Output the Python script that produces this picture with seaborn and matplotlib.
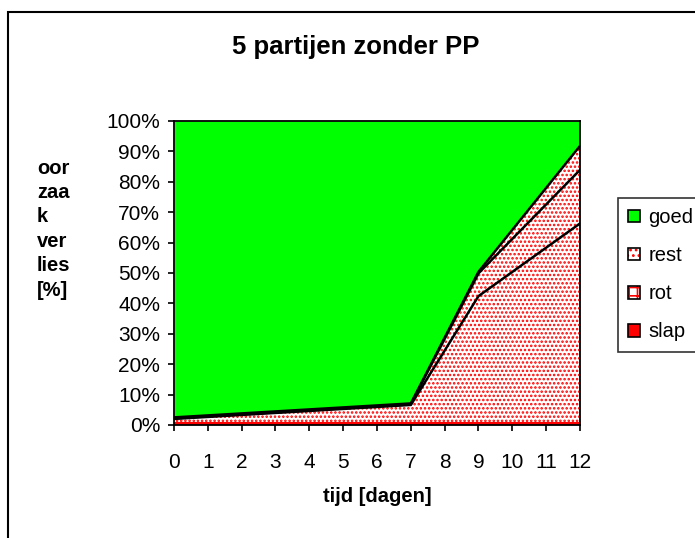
import numpy as np
import pandas as pd
import matplotlib
matplotlib.use("Agg")
import matplotlib.pyplot as plt
from matplotlib.patches import Patch, Rectangle
from matplotlib.legend_handler import HandlerTuple
from matplotlib.ticker import FuncFormatter
import seaborn as sns

# ---- data (percentages, per layer, bottom-up) ----
days = [0, 7, 9, 12]
slap = [1.0, 1.0, 1.0, 1.0]
rot = [1.0, 5.6, 41.4, 65.3]
rest = [0.2, 0.2, 7.5, 17.6]
overig = [0.3, 0.3, 0.5, 7.9]
goed = [97.5, 92.9, 49.6, 8.2]

title = "5 partijen zonder PP"
xlabel = "tijd [dagen]"
ylabel_lines = ["oor", "zaa", "k", "ver", "lies", "[%]"]
xticks = list(range(0, 13))
yticks = list(range(0, 101, 10))
legend_labels = ["goed", "rest", "rot", "slap"]

GREEN = "#00FF00"
RED = "#FF0000"

sns.set_theme(style="white")
plt.rcParams["font.family"] = ["Liberation Sans", "DejaVu Sans"]
plt.rcParams["text.color"] = "black"
plt.rcParams["xtick.color"] = "black"
plt.rcParams["ytick.color"] = "black"
plt.rcParams["hatch.linewidth"] = 1.2
plt.rcParams["hatch.color"] = RED

fig = plt.figure(figsize=(6.95, 5.38), dpi=100)
fig.patch.set_facecolor("white")
ax = fig.add_axes([174 / 695, 1 - 425 / 538, (580 - 174) / 695, (425 - 121) / 538])

layers = [slap, rot, rest, overig, goed]
polys = ax.stackplot(days, *layers,
                     colors=[RED, "white", "white", "white", GREEN],
                     linewidth=0)
for p, h in zip(polys, [None, "....", "....", "....", None]):
    if h:
        p.set_hatch(h)
        p.set_edgecolor(RED)
        p.set_linewidth(0)

# boundary lines (tops of the stacked layers)
cum = np.cumsum(np.array(layers[:-1]), axis=0)
long = pd.DataFrame({
    "dag": np.tile(days, 3),
    "waarde": np.concatenate([cum[1], cum[2], cum[3]]),
    "laag": np.repeat(["rot", "rest", "overig"], len(days)),
})
sns.lineplot(data=long, x="dag", y="waarde", units="laag", estimator=None,
             color="black", linewidth=1.8, ax=ax, legend=False)

ax.set_xlim(0, 12)
ax.set_ylim(0, 100)
ax.set_xticks(xticks)
ax.set_yticks(yticks)
ax.yaxis.set_major_formatter(FuncFormatter(lambda v, _: f"{int(v)}%"))
ax.tick_params(axis="both", which="both", direction="out", length=4, width=1.2,
               colors="black", labelcolor="black", labelsize=15,
               left=True, bottom=True, pad=6)
ax.tick_params(axis="x", pad=16)
for s in ax.spines.values():
    s.set_color("black")
    s.set_linewidth(1.3)
ax.set_xlabel("")
ax.set_ylabel("")

fig.text(356 / 695, 1 - 47 / 538, title, ha="center", va="center",
         fontsize=18.5, fontweight="bold", color="black")
fig.text(377 / 695, 1 - 497 / 538, xlabel, ha="center", va="center",
         fontsize=14.5, fontweight="bold", color="black")
for i, t in enumerate(ylabel_lines):
    fig.text(37 / 695, 1 - (168 + i * 24.5) / 538, t, ha="left", va="center",
             fontsize=14.5, fontweight="bold", color="black")

# outer chart frame
fig.patches.append(Rectangle((8 / 695, -0.2), 1.2, 0.2 + 1 - 12 / 538,
                             transform=fig.transFigure, fill=False,
                             edgecolor="black", linewidth=1.5))

border = dict(facecolor="none", edgecolor="black", linewidth=1.2)
handles = [
    Patch(facecolor=GREEN, edgecolor="black", linewidth=1.2),
    (Patch(facecolor="white", edgecolor=RED, hatch="...", linewidth=0), Patch(**border)),
    (Patch(facecolor="white", edgecolor=RED, hatch="++", linewidth=0), Patch(**border)),
    Patch(facecolor=RED, edgecolor="black", linewidth=1.2),
]
leg = fig.legend(handles, legend_labels, loc="upper left",
                 bbox_to_anchor=(618 / 695, 1 - 198 / 538),
                 handler_map={tuple: HandlerTuple(ndivide=1, pad=0)},
                 fontsize=14.5, frameon=True, fancybox=False,
                 edgecolor="black", handlelength=0.6, handleheight=0.6,
                 handletextpad=0.4, labelspacing=0.95, borderpad=0.5,
                 borderaxespad=0, labelcolor="black")
leg.get_frame().set_linewidth(1.2)

fig.savefig("out.png", dpi=100)
